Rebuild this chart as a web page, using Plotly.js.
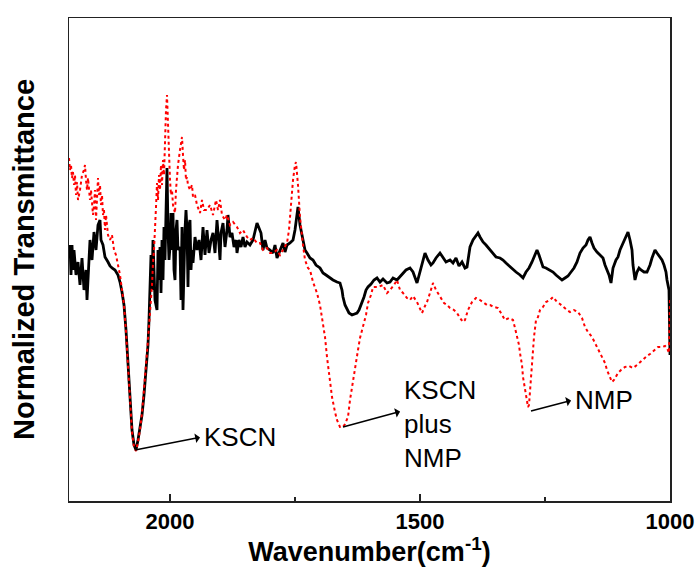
<!DOCTYPE html>
<html>
<head>
<meta charset="utf-8">
<script src="https://cdn.plot.ly/plotly-3.0.1.min.js"></script>
<style>html,body{margin:0;padding:0;background:#fff;}#chart{width:696px;height:567px;}</style>
</head>
<body>
<div id="chart"></div>
<script>
// Wavenumber (cm^-1) and normalized transmittance (arbitrary units)
var kscnWavenumber = [2202,2200,2198,2196,2194,2192,2188,2184,2180,2176,2172,2168,2166,2164,2160,2156,2152,2148,2144,2140,2138,2134,2130,2124,2120,2116,2110,2104,2100,2096,2092,2088,2084,2080,2076,2072,2068,2064,2060,2056,2052,2048,2044,2042,2040,2038,2036,2034,2030,2026,2024,2022,2020,2018,2016,2014,2012,2010,2008,2006,2004,2002,2000,1998,1996,1994,1992,1990,1988,1986,1984,1980,1978,1976,1974,1972,1970,1968,1966,1964,1962,1960,1958,1956,1954,1950,1946,1942,1938,1934,1930,1926,1922,1918,1914,1910,1906,1902,1900,1898,1894,1890,1886,1884,1880,1876,1872,1868,1866,1862,1858,1854,1850,1846,1840,1834,1830,1826,1822,1818,1814,1810,1806,1800,1794,1790,1786,1780,1774,1770,1766,1760,1754,1750,1746,1744,1740,1736,1730,1726,1720,1714,1708,1700,1694,1688,1680,1674,1666,1660,1656,1654,1650,1646,1642,1636,1630,1626,1622,1616,1612,1608,1604,1598,1592,1586,1580,1574,1566,1560,1554,1546,1540,1534,1528,1520,1514,1506,1502,1496,1490,1484,1478,1474,1468,1460,1454,1448,1440,1434,1428,1422,1416,1410,1406,1402,1400,1394,1388,1384,1380,1374,1368,1360,1354,1348,1340,1334,1328,1320,1314,1308,1300,1294,1288,1282,1276,1270,1266,1262,1258,1254,1248,1240,1234,1228,1222,1216,1210,1204,1198,1192,1186,1180,1174,1168,1164,1160,1156,1152,1146,1140,1134,1130,1126,1122,1118,1114,1108,1104,1100,1096,1092,1088,1084,1080,1076,1074,1070,1066,1062,1058,1052,1046,1040,1036,1030,1026,1020,1016,1012,1008,1006,1004,1002,1000];
var kscnT = [24.2,25.5,22.5,25.5,23.0,25.0,22.5,23.8,21.5,24.2,21.0,23.0,20.0,22.5,26.0,24.0,26.8,25.0,27.5,28.0,26.0,25.5,24.3,23.8,23.4,23.2,23.0,22.5,21.8,20.8,19.5,17.0,14.0,10.0,7.0,5.5,5.0,6.0,7.2,8.5,10.5,13.0,15.5,18.0,21.0,24.5,21.0,26.0,20.0,19.0,25.0,22.0,25.3,20.7,26.0,22.0,27.3,24.0,28.7,33.2,27.0,24.0,25.3,28.7,25.0,28.7,23.0,22.0,27.0,28.0,25.0,25.3,20.0,27.3,19.0,24.0,27.0,29.0,27.0,21.3,27.5,28.0,23.0,25.0,23.7,26.3,25.0,26.0,24.0,27.3,24.5,27.0,24.7,26.0,26.7,24.7,28.0,25.5,24.0,26.7,27.7,25.3,27.0,28.5,26.3,26.7,25.3,26.0,24.7,26.0,25.3,26.3,25.3,25.8,25.5,26.0,27.0,27.7,27.2,26.7,25.0,26.0,25.2,25.0,24.7,25.5,24.2,25.0,25.7,24.8,25.5,25.7,26.0,27.0,28.7,29.3,27.5,26.5,25.0,24.7,24.2,24.0,23.5,23.2,22.7,22.5,22.2,22.0,21.8,21.7,21.0,20.3,19.5,19.0,18.7,18.5,18.6,18.7,19.0,19.7,20.3,21.0,21.3,21.6,22.0,22.2,21.8,22.1,21.7,21.8,22.2,22.0,22.3,22.6,23.0,23.2,22.8,21.7,22.5,23.8,24.7,24.0,23.5,23.7,24.2,24.7,24.2,23.8,24.0,23.7,24.2,23.4,23.8,23.2,23.3,24.5,25.3,26.0,26.4,26.7,26.3,25.8,25.5,25.0,24.7,24.3,24.2,24.0,23.7,23.3,23.0,22.8,22.5,22.2,22.8,23.2,23.8,24.5,25.0,24.5,23.8,23.3,23.2,23.0,22.8,22.5,22.2,22.0,22.2,22.4,22.8,23.2,23.8,24.7,25.2,25.5,26.0,26.3,25.7,25.2,24.8,24.5,24.2,23.5,23.0,22.5,21.7,23.2,24.0,24.3,25.0,25.5,26.0,26.5,26.8,26.0,25.0,23.5,22.0,22.8,23.2,23.0,22.8,22.8,23.5,24.2,25.0,24.7,24.2,24.0,23.5,22.8,22.0,21.5,21.0,14.5];

var mixWavenumber = [2202,2200,2198,2196,2194,2192,2190,2188,2186,2184,2180,2176,2172,2170,2168,2166,2164,2162,2160,2158,2156,2154,2152,2150,2148,2146,2144,2142,2140,2138,2136,2134,2132,2130,2128,2124,2120,2116,2112,2108,2104,2100,2096,2092,2088,2084,2080,2076,2072,2068,2064,2060,2056,2052,2048,2044,2040,2036,2034,2032,2028,2026,2024,2022,2020,2018,2016,2014,2012,2010,2008,2006,2004,2002,2000,1998,1996,1994,1990,1988,1984,1980,1976,1974,1972,1970,1968,1966,1964,1960,1956,1954,1950,1946,1940,1936,1932,1926,1920,1914,1908,1904,1900,1896,1890,1886,1880,1874,1866,1860,1854,1846,1840,1834,1826,1820,1814,1806,1800,1794,1786,1780,1774,1766,1762,1758,1754,1750,1748,1744,1740,1734,1730,1724,1720,1714,1706,1700,1696,1690,1686,1680,1676,1670,1666,1660,1654,1650,1644,1640,1634,1630,1624,1620,1614,1608,1604,1598,1594,1584,1574,1566,1560,1552,1546,1540,1534,1526,1520,1514,1506,1500,1496,1490,1486,1480,1474,1468,1460,1452,1446,1440,1432,1426,1420,1414,1410,1404,1396,1388,1380,1372,1366,1360,1352,1344,1336,1330,1322,1314,1310,1306,1302,1300,1296,1294,1290,1286,1284,1282,1280,1278,1276,1272,1268,1264,1260,1254,1248,1240,1234,1226,1220,1214,1206,1200,1192,1184,1176,1170,1164,1156,1150,1146,1140,1136,1130,1126,1120,1116,1112,1108,1104,1098,1090,1082,1074,1066,1060,1054,1046,1040,1032,1024,1016,1010,1006,1004,1002,1000];
var mixT = [34.2,33.0,33.5,32.2,32.8,31.5,32.5,30.5,31.8,30.0,31.0,32.5,33.0,33.5,32.0,31.0,32.2,30.5,30.0,31.0,29.0,28.5,29.5,31.0,28.0,30.0,32.2,30.5,31.5,29.5,30.5,28.5,29.0,27.0,28.5,26.5,26.0,26.5,25.0,24.5,23.5,22.5,21.0,19.5,16.8,13.8,9.8,6.8,5.3,4.9,5.8,7.0,8.7,10.8,13.5,16.0,18.5,21.5,23.7,25.0,29.3,31.7,30.0,32.5,31.0,33.5,31.5,34.0,32.5,37.0,39.0,40.5,37.0,34.0,32.0,30.5,31.0,29.5,28.7,31.0,33.5,35.0,36.3,34.5,33.0,34.0,32.0,32.3,31.5,31.0,31.5,30.3,30.5,29.5,28.7,30.0,29.0,29.0,29.5,28.5,30.0,29.0,30.0,28.5,28.0,28.5,27.5,27.8,27.3,26.7,27.0,26.3,26.0,26.2,25.7,25.7,25.0,25.2,24.7,24.7,25.0,24.5,25.0,25.7,27.0,29.5,32.0,33.5,33.8,31.5,28.3,25.5,24.0,23.2,23.0,21.8,20.7,19.5,18.3,16.3,14.3,12.0,10.3,8.8,8.0,7.3,7.3,7.6,8.3,10.0,12.0,13.5,15.0,16.2,17.3,18.5,19.7,20.5,21.3,21.3,21.5,20.7,21.0,21.5,22.0,21.0,20.7,20.2,20.0,20.4,19.8,19.2,18.7,19.4,19.8,20.7,21.7,21.0,20.3,19.7,19.5,19.2,19.0,18.7,18.2,17.8,18.0,19.0,19.8,20.2,20.0,19.7,19.5,19.5,19.3,19.2,18.5,18.0,18.2,18.0,17.2,16.3,15.5,14.7,13.5,12.3,11.0,9.7,9.3,9.5,11.0,12.5,14.0,16.3,18.0,18.3,19.0,19.3,19.8,20.0,20.3,19.8,19.6,19.3,19.0,18.8,19.0,18.8,18.2,17.3,16.8,16.3,15.7,15.3,14.8,14.3,13.7,13.0,12.3,11.8,12.0,12.4,12.7,13.0,13.3,13.4,13.2,13.5,13.8,14.0,14.4,14.6,15.0,15.3,15.3,15.4,15.2,14.8,14.7,20.0];

var xTickVals = [2000, 1500, 1000];
var xMinorVals = [1750, 1250];

var traces = [
  {x: kscnWavenumber, y: kscnT, type: 'scatter', mode: 'lines', name: 'KSCN',
   line: {color: '#000000', width: 2.8}},
  {x: mixWavenumber, y: mixT, type: 'scatter', mode: 'lines', name: 'KSCN plus NMP',
   line: {color: '#ff0000', width: 2, dash: 'dot'}}
];

var fontFam = 'Liberation Sans, Arial, sans-serif';
var annFont = {family: fontFam, size: 26, color: '#000'};
var arrowStyle = {showarrow: true, arrowside: 'start', arrowhead: 2, arrowsize: 1.3, arrowwidth: 1.6,
                  arrowcolor: '#000', standoff: 0, startstandoff: 2, axref: 'x', ayref: 'y',
                  xref: 'x', yref: 'y', xanchor: 'left', yanchor: 'middle', align: 'left', font: annFont};
function arrowNote(o) { return Object.assign({}, arrowStyle, o); }

var layout = {
  width: 696, height: 567,
  margin: {l: 69, r: 26, t: 18, b: 66},
  paper_bgcolor: '#fff', plot_bgcolor: '#fff',
  showlegend: false,
  xaxis: {
    range: [2202, 1000], showgrid: false, zeroline: false,
    showline: true, mirror: true, linecolor: '#222', linewidth: 1.5,
    ticks: 'inside', ticklen: 7, tickwidth: 1.2, tickcolor: '#222',
    tickmode: 'array', tickvals: xTickVals, ticktext: xTickVals.map(String),
    minor: {tickmode: 'array', tickvals: xMinorVals, ticks: 'inside', ticklen: 4, tickwidth: 1.2, tickcolor: '#222'},
    tickfont: {family: fontFam, size: 22, color: '#000', weight: 'bold'},
    title: {text: 'Wavenumber(cm<sup>-1</sup>)', standoff: 4,
            font: {family: fontFam, size: 27, color: '#000', weight: 'bold'}}
  },
  yaxis: {
    range: [-0.1, 48.2], showgrid: false, zeroline: false,
    showline: true, mirror: true, linecolor: '#222', linewidth: 1.5,
    ticks: '', showticklabels: false,
    title: {text: '\u00a0\u00a0\u00a0\u00a0\u00a0Normalized Transmittance', standoff: 24,
            font: {family: fontFam, size: 29, color: '#000', weight: 'bold'}}
  },
  annotations: [
    arrowNote({x: 2070, y: 5.0, ax: 1936, ay: 6.3, text: 'KSCN'}),
    arrowNote({x: 1654, y: 7.3, ax: 1536, ay: 8.9, text: 'KSCN<br>plus<br>NMP', height: 124, valign: 'bottom'}),
    arrowNote({x: 1278, y: 8.9, ax: 1194, ay: 10.0, text: 'NMP'})
  ]
};

Plotly.newPlot('chart', traces, layout, {staticPlot: true, displayModeBar: false});
</script>
</body>
</html>
